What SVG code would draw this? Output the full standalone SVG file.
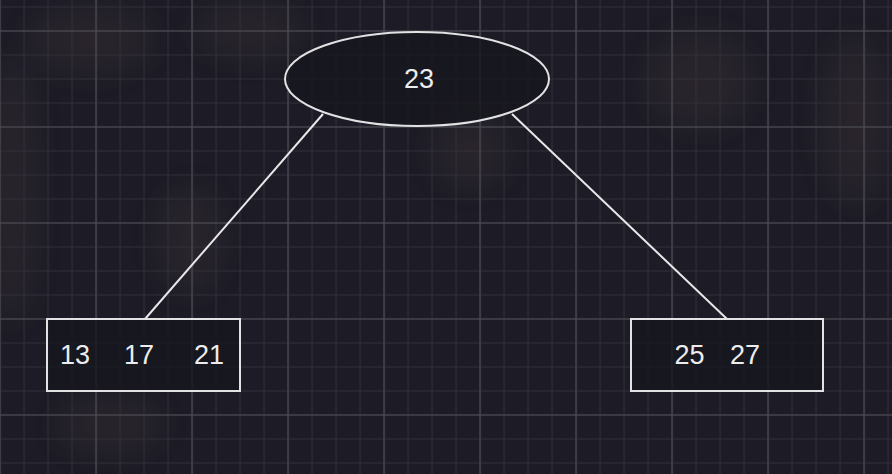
<svg xmlns="http://www.w3.org/2000/svg" width="892" height="474" viewBox="0 0 892 474">
  <defs>
    <pattern id="minor" x="-0.5" y="6.5" width="24" height="24" patternUnits="userSpaceOnUse">
      <path d="M0.5 0V24M0 0.5H24" stroke="#302f39" stroke-width="1.2" fill="none"/>
    </pattern>
    <pattern id="major" x="-0.5" y="30.5" width="96" height="96" patternUnits="userSpaceOnUse">
      <path d="M0.5 0V96M0 0.5H96" stroke="#4f4e55" stroke-width="1.2" fill="none"/>
    </pattern>
    <filter id="blur" x="-50%" y="-50%" width="200%" height="200%">
      <feGaussianBlur stdDeviation="14"/>
    </filter>
    <style>
      .node { fill: #17161e; fill-opacity: 0.8; stroke: #e2e2e4; stroke-width: 2; }
      .edge { stroke: #e8e8ea; stroke-width: 2; fill: none; }
      .lbl { font-family: "Liberation Sans", Arial, sans-serif; font-size: 27px; fill: #ececee; }
    </style>
  </defs>
  <rect width="892" height="474" fill="#1d1c26"/>
  <g filter="url(#blur)" fill="#3a3234" opacity="0.4">
    <ellipse cx="12" cy="190" rx="22" ry="130"/>
    <ellipse cx="90" cy="40" rx="60" ry="30"/>
    <ellipse cx="250" cy="30" rx="50" ry="25"/>
    <ellipse cx="470" cy="150" rx="35" ry="35"/>
    <ellipse cx="700" cy="80" rx="50" ry="45"/>
    <ellipse cx="855" cy="120" rx="30" ry="80"/>
    <ellipse cx="190" cy="240" rx="30" ry="50"/>
    <ellipse cx="110" cy="425" rx="50" ry="25"/>
  </g>
  <rect width="892" height="474" fill="url(#minor)"/>
  <rect width="892" height="474" fill="url(#major)"/>
  <g id="connectors">
    <line class="edge" x1="323" y1="114" x2="145" y2="319"/>
    <line class="edge" x1="512" y1="114" x2="727" y2="319"/>
  </g>
  <g id="node-23">
    <ellipse class="node" cx="417" cy="79" rx="132" ry="47"/>
    <text class="lbl" x="419" y="88" text-anchor="middle">23</text>
  </g>
  <g id="node-left">
    <rect class="node" x="47" y="319" width="193" height="72"/>
    <text class="lbl" x="75" y="364" text-anchor="middle">13</text>
    <text class="lbl" x="139" y="364" text-anchor="middle">17</text>
    <text class="lbl" x="209" y="364" text-anchor="middle">21</text>
  </g>
  <g id="node-right">
    <rect class="node" x="631" y="319" width="192" height="72"/>
    <text class="lbl" x="689.5" y="364" text-anchor="middle">25</text>
    <text class="lbl" x="745" y="364" text-anchor="middle">27</text>
  </g>
</svg>
